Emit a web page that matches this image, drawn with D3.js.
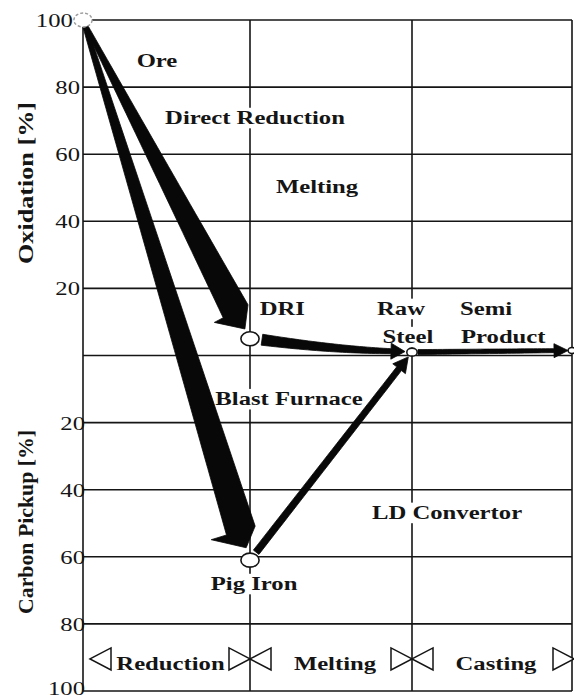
<!DOCTYPE html>
<html><head><meta charset="utf-8">
<script src="https://cdn.jsdelivr.net/npm/d3@7"></script>
<style>html,body{margin:0;padding:0;background:#fff;}</style>
</head><body>
<svg id="chart" width="574" height="699"></svg>
<script>
// ---------------- data ----------------
const stages = [0, 1, 2, 3];                        // process stage boundaries
const phases = ["Reduction", "Melting", "Casting"]; // process phases between boundaries
const oxidationTicks = [100, 80, 60, 40, 20];
const carbonTicks = [20, 40, 60, 80, 100];
const gridValues = [100, 80, 60, 40, 20, 0, -20, -40, -60, -80, -100];
const nodeNames = ["Ore", "DRI", "Pig Iron", "Raw Steel", "Semi Product"];
const nodeStage = [0, 1, 1, 2, 3];
const nodeValue = [100, 5, -61, 1, 1.5];            // + oxidation %, - carbon pickup %
const flowFrom = ["Ore", "Ore", "DRI", "Pig Iron", "Raw Steel"];
const flowTo   = ["DRI", "Pig Iron", "Raw Steel", "Raw Steel", "Semi Product"];
const labelTexts = ["Ore", "Direct Reduction", "Melting", "DRI", "Raw", "Steel", "Semi", "Product",
                    "Blast Furnace", "LD Convertor", "Pig Iron"];

// ---------------- layout / style ----------------
const W = 574, H = 699, SX = 1.3;
const FONT = "'Liberation Serif','Times New Roman',serif";
const INK = "#151515";
const labelLayout = {   // [stage, value, anchor, whiteBackground]
  "Ore": [0.443, 86.0, "middle", false],
  "Direct Reduction": [1.031, 69.0, "middle", true],
  "Melting": [1.414, 48.4, "middle", false],
  "DRI": [1.06, 12.1, "start", false],
  "Raw": [1.932, 12.1, "middle", true],
  "Steel": [1.975, 3.7, "middle", true],
  "Semi": [2.30, 12.1, "start", false],
  "Product": [2.306, 3.7, "start", false],
  "Blast Furnace": [1.241, -14.8, "middle", true],
  "LD Convertor": [2.219, -48.7, "middle", true],
  "Pig Iron": [1.025, -69.9, "middle", true]
};
const nodeRadius = {"Ore": 7, "DRI": 7, "Pig Iron": 7, "Raw Steel": 4, "Semi Product": 3};
const flowStyle = [
  {w0: 3, w1: 28, headLen: 20, barbL: 24, barbR: 14, bend: 0, gapStart: 0, gapEnd: 11},
  {w0: 4, w1: 30, headLen: 18, barbL: 31, barbR: 15, bend: 0, gapStart: 0, gapEnd: 13},
  {w0: 11, w1: 5, headLen: 14, barbL: 8, barbR: 8, bend: 4, gapStart: 12, gapEnd: 7},
  {w0: 7, w1: 6, headLen: 15, barbL: 8, barbR: 8, bend: 0, gapStart: 10, gapEnd: 6},
  {w0: 5, w1: 4, headLen: 14, barbL: 7, barbR: 7, bend: 0, gapStart: 6, gapEnd: 4}
];

const x = d3.scaleLinear().domain(stages).range([83, 250, 412, 572]);
const y = d3.scaleLinear().domain([100, -100]).range([20, 691]);

const svg = d3.select("#chart");
svg.append("rect").attr("width", W).attr("height", H).attr("fill", "#fff");

const gridL = svg.append("g");
const bgL = svg.append("g");
const flowL = svg.append("g");
const nodeL = svg.append("g");
const textL = svg.append("g");

// grid
gridL.selectAll("line.h").data(gridValues).join("line").attr("class", "h")
  .attr("x1", x(0)).attr("x2", x(3)).attr("y1", d => y(d)).attr("y2", d => y(d))
  .attr("stroke", INK).attr("stroke-width", 1.6);
gridL.selectAll("line.v").data(stages).join("line").attr("class", "v")
  .attr("x1", d => x(d)).attr("x2", d => x(d)).attr("y1", y(100)).attr("y2", y(-100))
  .attr("stroke", INK).attr("stroke-width", 1.6);

// axes (tick labels only)
function styleAxis(g) {
  g.select(".domain").remove();
  g.selectAll(".tick line").remove();
  g.selectAll(".tick text").attr("x", 0).attr("dy", "0.34em")
    .attr("transform", `scale(${SX},1)`)
    .attr("font-family", FONT).attr("font-size", 19).attr("fill", INK);
}
const oxAxis = svg.append("g").attr("transform", "translate(80,0)")
  .call(d3.axisLeft(y).tickValues(oxidationTicks).tickSize(0).tickPadding(0).tickFormat(d => d))
  .call(styleAxis);
oxAxis.selectAll(".tick").filter(d => d === 100).select("text").attr("x", -5.5);
const cAxis = svg.append("g").attr("transform", "translate(85,0)")
  .call(d3.axisLeft(y).tickValues(carbonTicks.map(v => -v)).tickSize(0).tickPadding(0).tickFormat(d => Math.abs(d)))
  .call(styleAxis);
cAxis.selectAll(".tick").filter(d => d === -100).select("text").attr("dy", "0.2em");

// axis titles
function axisTitle(text, cy, len) {
  svg.append("text")
    .attr("transform", `translate(33,${cy}) scale(${SX},1) rotate(-90)`)
    .attr("text-anchor", "middle").attr("font-family", FONT).attr("font-weight", "bold")
    .attr("font-size", 16).attr("fill", INK)
    .attr("textLength", len).attr("lengthAdjust", "spacingAndGlyphs")
    .text(text);
}
axisTitle("Oxidation [%]", 183, 162);
axisTitle("Carbon Pickup [%]", 522, 184);

// labels
function addLabel(text, px, py, anchor, bg) {
  const g = textL.append("g").attr("transform", `translate(${px},${py}) scale(${SX},1)`);
  const t = g.append("text").attr("text-anchor", anchor).attr("font-family", FONT)
    .attr("font-weight", "bold").attr("font-size", 19).attr("fill", INK).text(text);
  if (bg) {
    const b = t.node().getBBox();
    bgL.append("rect").attr("transform", `translate(${px},${py}) scale(${SX},1)`)
      .attr("x", b.x - 2).attr("y", b.y + 1).attr("width", b.width + 4).attr("height", b.height - 1)
      .attr("fill", "#fff");
  }
}
labelTexts.forEach(t => {
  const [s, v, a, bg] = labelLayout[t];
  addLabel(t, x(s), y(v), a, bg);
});

// bottom phase band
const bandY = y(-90) + 1.5;
phases.forEach((p, i) => {
  addLabel(p, (x(i) + x(i + 1)) / 2 + 4, bandY + 11, "middle", false);
  const tl = x(i) + (i === 0 ? 7 : 0);
  const tr = x(i + 1) + (i === phases.length - 1 ? 2 : 0);
  const tri = (tip, dir) => `M${tip},${bandY} L${tip + dir * 21},${bandY - 11} L${tip + dir * 21},${bandY + 11} Z`;
  gridL.append("path").attr("d", tri(tl, 1)).attr("fill", "#fff").attr("stroke", INK).attr("stroke-width", 1.5);
  gridL.append("path").attr("d", tri(tr, -1)).attr("fill", "#fff").attr("stroke", INK).attr("stroke-width", 1.5);
});

// flows
const nodePos = name => {
  const i = nodeNames.indexOf(name);
  return [x(nodeStage[i]), y(nodeValue[i])];
};
function arrowPath(a, b, o) {
  let dx = b[0] - a[0], dy = b[1] - a[1], L = Math.hypot(dx, dy);
  const p0 = [a[0] + dx / L * o.gapStart, a[1] + dy / L * o.gapStart];
  const p1 = [b[0] - dx / L * o.gapEnd, b[1] - dy / L * o.gapEnd];
  dx = p1[0] - p0[0]; dy = p1[1] - p0[1]; L = Math.hypot(dx, dy);
  const c = [(p0[0] + p1[0]) / 2 - dy / L * o.bend, (p0[1] + p1[1]) / 2 + dx / L * o.bend];
  let ux = p1[0] - c[0], uy = p1[1] - c[1]; const ul = Math.hypot(ux, uy); ux /= ul; uy /= ul;
  const base = [p1[0] - ux * o.headLen, p1[1] - uy * o.headLen];
  const N = 30, left = [], right = [];
  for (let k = 0; k <= N; k++) {
    const t = k / N, mt = 1 - t;
    const px = mt * mt * p0[0] + 2 * mt * t * c[0] + t * t * base[0];
    const py = mt * mt * p0[1] + 2 * mt * t * c[1] + t * t * base[1];
    let tx = 2 * mt * (c[0] - p0[0]) + 2 * t * (base[0] - c[0]);
    let ty = 2 * mt * (c[1] - p0[1]) + 2 * t * (base[1] - c[1]);
    const tlen = Math.hypot(tx, ty); tx /= tlen; ty /= tlen;
    const nx = -ty, ny = tx, w = (o.w0 + (o.w1 - o.w0) * t) / 2;
    left.push([px + nx * w, py + ny * w]);
    right.push([px - nx * w, py - ny * w]);
  }
  const nx = -uy, ny = ux;
  const pts = left.concat([
    [base[0] + nx * o.barbL, base[1] + ny * o.barbL],
    p1,
    [base[0] - nx * o.barbR, base[1] - ny * o.barbR]
  ]).concat(right.reverse());
  return "M" + pts.map(p => p[0].toFixed(2) + "," + p[1].toFixed(2)).join("L") + "Z";
}
flowFrom.forEach((f, i) => {
  flowL.append("path").attr("d", arrowPath(nodePos(f), nodePos(flowTo[i]), flowStyle[i]))
    .attr("fill", "#080808").attr("stroke", "#080808").attr("stroke-width", 0.8).attr("stroke-linejoin", "round");
});

// nodes
nodeNames.forEach((n, i) => {
  const [cx, cy] = nodePos(n), r = nodeRadius[n];
  nodeL.append("ellipse").attr("cx", cx).attr("cy", cy).attr("rx", r * SX).attr("ry", r)
    .attr("fill", "#fff")
    .attr("stroke", n === "Ore" ? "#9a9a9a" : INK)
    .attr("stroke-width", n === "Ore" ? 1.4 : 1.6)
    .attr("stroke-dasharray", n === "Ore" ? "3,2" : null);
});
</script>
</body></html>
